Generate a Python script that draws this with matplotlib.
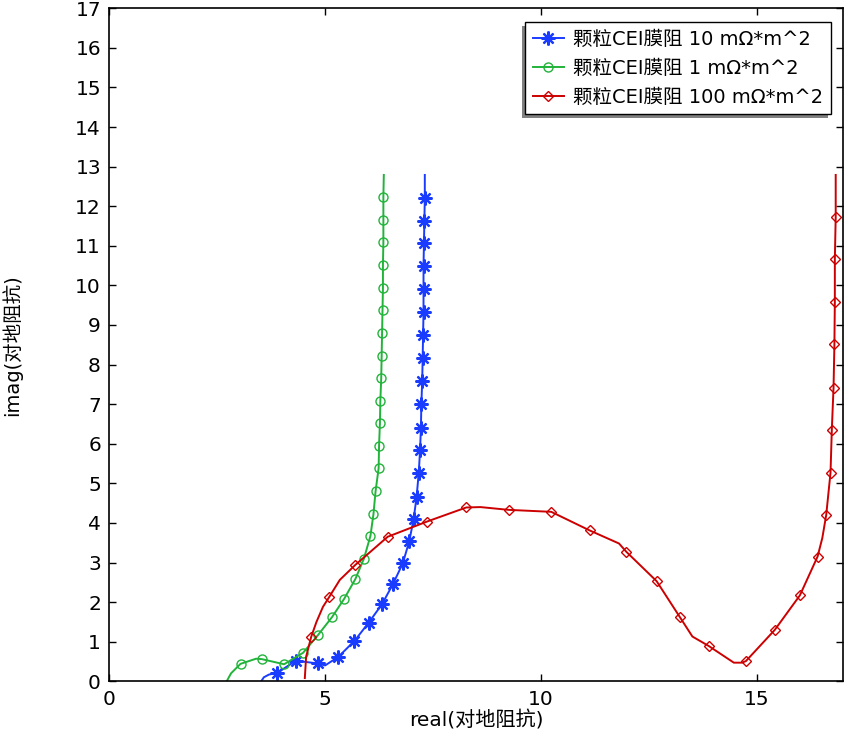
import matplotlib
matplotlib.use("Agg")
import matplotlib.pyplot as plt
from matplotlib.patches import Rectangle
from matplotlib.transforms import IdentityTransform

plt.rcParams['font.family'] = ['DejaVu Sans', 'Noto Sans CJK SC']

# 颗粒CEI膜阻 10 mΩ*m^2
x_10 = [3.52, 3.58, 3.70, 3.89, 4.32, 4.83, 5.00, 5.31, 5.68, 6.01, 6.32, 6.57, 6.80,
        6.95, 7.05, 7.12, 7.17, 7.20, 7.22, 7.23, 7.25, 7.26, 7.27, 7.28, 7.28, 7.28,
        7.29, 7.30, 7.31, 7.31]
y_10 = [0.00, 0.10, 0.17, 0.21, 0.52, 0.45, 0.40, 0.62, 1.02, 1.48, 1.95, 2.45, 2.98,
        3.54, 4.09, 4.66, 5.27, 5.84, 6.41, 7.00, 7.59, 8.16, 8.74, 9.32, 9.90, 10.49,
        11.06, 11.63, 12.21, 12.79]
m_10 = [3, 4, 5, 7, 8, 9, 10, 11, 12, 13, 14, 15, 16, 17, 18, 19, 20, 21, 22, 23, 24,
        25, 26, 27, 28]

# 颗粒CEI膜阻 1 mΩ*m^2
x_1 = [2.72, 2.82, 3.04, 3.40, 3.53, 4.05, 4.49, 4.83, 5.16, 5.44, 5.70, 5.90, 6.05,
       6.12, 6.17, 6.24, 6.25, 6.27, 6.28, 6.30, 6.31, 6.32, 6.33, 6.34, 6.34, 6.35,
       6.35, 6.35, 6.36]
y_1 = [0.00, 0.20, 0.44, 0.57, 0.56, 0.43, 0.72, 1.16, 1.62, 2.08, 2.58, 3.10, 3.67,
       4.22, 4.81, 5.38, 5.95, 6.52, 7.09, 7.65, 8.22, 8.80, 9.37, 9.94, 10.51, 11.09,
       11.65, 12.23, 12.79]
m_1 = [2, 4, 5, 6, 7, 8, 9, 10, 11, 12, 13, 14, 15, 16, 17, 18, 19, 20, 21, 22, 23, 24,
       25, 26, 27]

# 颗粒CEI膜阻 100 mΩ*m^2
x_100 = [4.53, 4.56, 4.68, 4.80, 4.95, 5.09, 5.34, 5.70, 6.45, 7.35, 8.27, 8.60, 9.25,
         10.24, 11.13, 11.81, 11.98, 12.68, 13.22, 13.51, 13.89, 14.47, 14.66, 14.75,
         15.42, 16.00, 16.41, 16.52, 16.61, 16.71, 16.74, 16.78, 16.80, 16.81, 16.81,
         16.83, 16.83]
y_100 = [0.08, 0.62, 1.13, 1.50, 1.88, 2.12, 2.56, 2.94, 3.65, 4.03, 4.39, 4.40, 4.33,
         4.28, 3.81, 3.48, 3.27, 2.53, 1.62, 1.13, 0.89, 0.47, 0.47, 0.51, 1.30, 2.17,
         3.15, 3.62, 4.20, 5.27, 6.35, 7.42, 8.51, 9.58, 10.66, 11.73, 12.79]
m_100 = [2, 5, 7, 8, 9, 10, 12, 13, 14, 16, 17, 18, 20, 23, 24, 25, 26, 28, 29, 30, 31,
         32, 33, 34, 35]

fig = plt.figure(figsize=(8.46, 7.32), dpi=100)
ax = fig.add_axes([0.1292, 0.0693, 0.8673, 0.9194])

ax.plot(x_10, y_10, color="#1a3cff", lw=1.4, marker=(8, 2, 0), markersize=10,
        markeredgewidth=1.6, markevery=m_10, label="颗粒CEI膜阻 10 mΩ*m^2")
ax.plot(x_1, y_1, color="#22b33a", lw=1.4, marker="o", markersize=6.5,
        markerfacecolor="none", markeredgewidth=1.0, markevery=m_1,
        label="颗粒CEI膜阻 1 mΩ*m^2")
ax.plot(x_100, y_100, color="#cc0000", lw=1.4, marker="D", markersize=5,
        markerfacecolor="none", markeredgewidth=1.0, markevery=m_100,
        label="颗粒CEI膜阻 100 mΩ*m^2")

ax.set_xlim(0, 17)
ax.set_ylim(0, 17)
ax.set_xticks([0, 5, 10, 15])
ax.set_yticks(range(0, 18))
ax.tick_params(direction="in", length=5, width=1, labelsize=14.5,
               top=True, right=True, pad=6)
for s in ax.spines.values():
    s.set_linewidth(1.2)

ax.set_xlabel("real(对地阻抗)", fontsize=14.5)
ax.set_ylabel("imag(对地阻抗)", fontsize=14)
ax.xaxis.set_label_coords(0.5, -0.043)
ax.yaxis.set_label_coords(-0.119, 0.5)

leg = ax.legend(loc="upper right", bbox_to_anchor=(0.983, 0.979), borderaxespad=0,
                fontsize=14, fancybox=False, edgecolor="black", framealpha=1,
                handlelength=1.6, handletextpad=0.45, labelspacing=0.5,
                borderpad=0.4)
leg.get_frame().set_linewidth(1.0)

# shadow down-left of the legend box
fig.canvas.draw()
bb = leg.get_window_extent()
ax.add_patch(Rectangle((bb.x0 - 3, bb.y0 - 4), bb.width, bb.height,
                       transform=IdentityTransform(), facecolor="0.5",
                       edgecolor="none", zorder=4.9, clip_on=False))

fig.savefig("out.png", dpi=100, facecolor="white")
